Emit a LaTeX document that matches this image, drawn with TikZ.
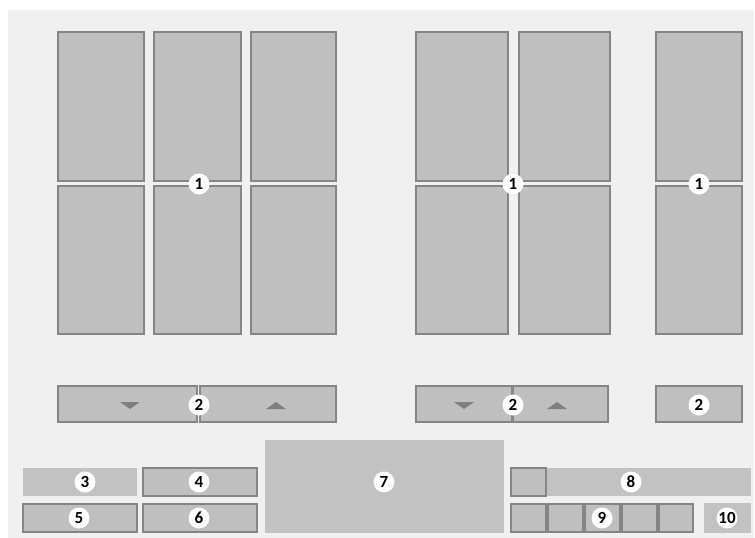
\documentclass[tikz,border=0pt]{standalone}
\usepackage{fontspec}
\setmainfont{Carlito}
\usetikzlibrary{fit}
\definecolor{panelbg}{HTML}{F0F0F0}
\definecolor{boxfill}{HTML}{BFBFBF}
\definecolor{boxline}{HTML}{858585}
\definecolor{flatfill}{HTML}{C2C2C2}
\definecolor{arrowc}{HTML}{7F7F7F}
\tikzset{
  box/.style={draw=boxline, fill=boxfill, line width=2pt, inner sep=0pt},
  flat/.style={fill=flatfill, draw=none, inner sep=0pt},
  badge/.style={circle, fill=white, draw=none, inner sep=0pt, minimum size=21pt,
    font=\fontsize{17}{17}\selectfont\bfseries, text=black},
  tri/.style={fill=arrowc, draw=none}
}
\newcommand{\bx}[6]{\node[#6, fit={(#2,#3) (#4,#5)}] (#1) {};}
\begin{document}
\begin{tikzpicture}[x=1pt,y=-1pt]
\useasboundingbox (0,0) rectangle (755,538);
\fill[white] (0,0) rectangle (755,538);
\fill[panelbg] (8,10) rectangle (754,538);
% left group
\bx{la1}{58}{32}{144}{181}{box}
\bx{la2}{154}{32}{241}{181}{box}
\bx{la3}{251}{32}{336}{181}{box}
\bx{lb1}{58}{186}{144}{334}{box}
\bx{lb2}{154}{186}{241}{334}{box}
\bx{lb3}{251}{186}{336}{334}{box}
% middle group
\bx{ma1}{416}{32}{508}{181}{box}
\bx{ma2}{519}{32}{610}{181}{box}
\bx{mb1}{416}{186}{508}{334}{box}
\bx{mb2}{519}{186}{610}{334}{box}
% right group
\bx{ra1}{656}{32}{742}{181}{box}
\bx{rb1}{656}{186}{742}{334}{box}
% bars
\bx{lbarL}{58}{386}{197}{422}{box}
\bx{lbarR}{200}{386}{336}{422}{box}
\bx{mbar}{416}{386}{608}{422}{box}
\draw[boxline, line width=3pt] (512,386) -- (512,422);
\bx{rbar}{656}{386}{742}{422}{box}
\fill[tri] (120,402) -- (140,402) -- (130,409) -- cycle;
\fill[tri] (266,409) -- (286,409) -- (276,402) -- cycle;
\fill[tri] (454,402) -- (474,402) -- (464,409) -- cycle;
\fill[tri] (547,409) -- (567,409) -- (557,402) -- cycle;
% bottom
\bx{c3}{23}{468}{137}{496}{flat}
\bx{c4}{143}{468}{257}{496}{box}
\bx{c5}{23}{504}{137}{532}{box}
\bx{c6}{143}{504}{257}{532}{box}
\bx{c7}{265}{440}{504}{533}{flat}
\bx{c8bar}{546}{468}{751}{496}{flat}
\bx{c8sq}{511}{468}{546}{496}{box}
\bx{c9a}{511}{504}{546}{532}{box}
\bx{c9b}{548}{504}{583}{532}{box}
\bx{c9c}{585}{504}{620}{532}{box}
\bx{c9d}{622}{504}{657}{532}{box}
\bx{c9e}{659}{504}{693}{532}{box}
\bx{c10}{704}{503}{751}{533}{flat}
% badges
\node[badge] (n1a) at (199,184) {1};
\node[badge] (n1b) at (513,184) {1};
\node[badge] (n1c) at (699,184) {1};
\node[badge] (n2a) at (199,405) {2};
\node[badge] (n2b) at (513,405) {2};
\node[badge] (n2c) at (699,405) {2};
\node[badge] (n3) at (85,482) {3};
\node[badge] (n4) at (199,482) {4};
\node[badge] (n5) at (79,518) {5};
\node[badge] (n6) at (199,518) {6};
\node[badge] (n7) at (384,482) {7};
\node[badge] (n8) at (631,482) {8};
\node[badge] (n9) at (602,518) {9};
\node[badge] (n10) at (727,518) {10};
\end{tikzpicture}
\end{document}
